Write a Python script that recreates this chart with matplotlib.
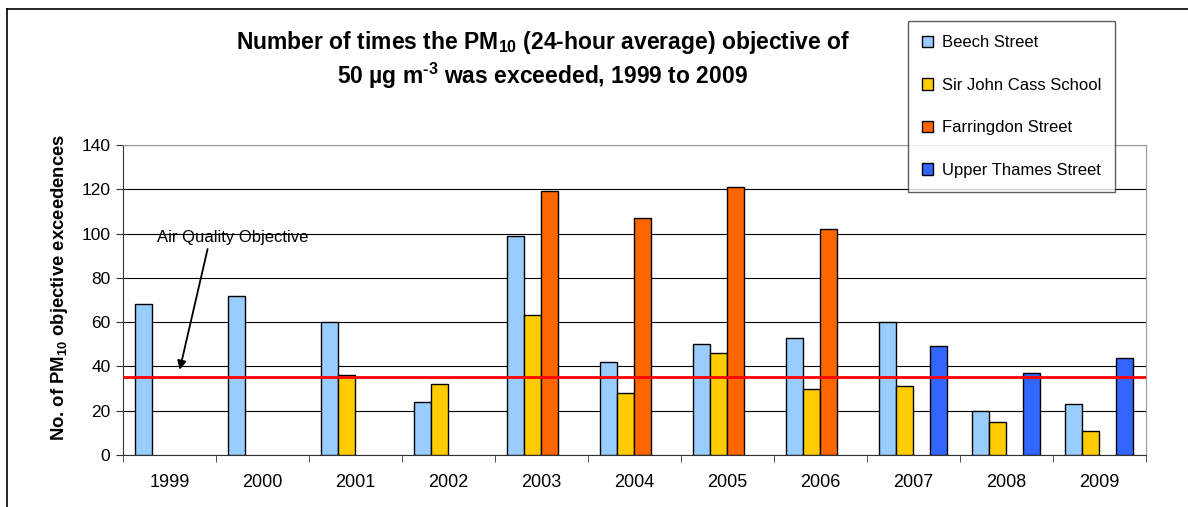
import numpy as np
import matplotlib.pyplot as plt
from matplotlib.lines import Line2D

plt.rcParams['font.family'] = ['Liberation Sans', 'DejaVu Sans']
plt.rcParams['mathtext.fontset'] = 'custom'
plt.rcParams['mathtext.rm'] = 'Liberation Sans:bold'
plt.rcParams['mathtext.bf'] = 'Liberation Sans:bold'
plt.rcParams['mathtext.default'] = 'rm'

years = ['1999', '2000', '2001', '2002', '2003', '2004', '2005', '2006', '2007', '2008', '2009']
beech = [68, 72, 60, 24, 99, 42, 50, 53, 60, 20, 23]
sir_john_cass = [0, 0, 36, 32, 63, 28, 46, 30, 31, 15, 11]
farringdon = [0, 0, 0, 0, 119, 107, 121, 102, 0, 0, 0]
upper_thames = [0, 0, 0, 0, 0, 0, 0, 0, 49, 37, 44]
objective = 35

series = [
    ('Beech Street', beech, '#99ccff'),
    ('Sir John Cass School', sir_john_cass, '#ffcc00'),
    ('Farringdon Street', farringdon, '#ff6600'),
    ('Upper Thames Street', upper_thames, '#3366ff'),
]

fig = plt.figure(figsize=(11.88, 5.07), dpi=100)
ax = fig.add_axes([0.1035, 0.1026, 0.8611, 0.6114])

x = np.arange(len(years))
w = 0.183
for i, (name, vals, col) in enumerate(series):
    vals = np.array(vals, dtype=float)
    mask = vals > 0
    ax.bar(x[mask] + (i - 1.5) * w, vals[mask], width=w, color=col,
           edgecolor='black', linewidth=1.0, label=name, zorder=3)

ax.axhline(objective, color='#ff0000', linewidth=2, zorder=4)

ax.set_xlim(-0.5, len(years) - 0.5)
ax.set_ylim(0, 140)
ax.set_yticks(range(0, 141, 20))
ax.set_xticks(x)
ax.set_xticklabels(years)
ax.set_xticks(np.arange(-0.5, len(years), 1), minor=True)
ax.tick_params(axis='x', which='major', length=0, labelsize=13, pad=14)
ax.tick_params(axis='x', which='minor', length=5, direction='out', color='#333333')
ax.tick_params(axis='y', length=5, direction='out', labelsize=12.5, color='#333333', pad=4)
ax.yaxis.grid(True, color='black', linewidth=0.8, zorder=0)
ax.set_axisbelow(True)
for side in ['top', 'right']:
    ax.spines[side].set_color('#999999')
ax.spines['left'].set_color('#333333')
ax.spines['bottom'].set_color('#333333')

ax.set_ylabel(r'No. of PM$_{10}$ objective exceedences', fontsize=13.3,
              fontweight='bold')
ax.yaxis.set_label_coords(-0.052, 0.54)

ax.text(-0.13, 98, 'Air Quality Objective', fontsize=12, ha='left', va='center')
ax.annotate('', xy=(0.11, 38.5), xytext=(0.41, 93),
            arrowprops=dict(arrowstyle='-|>', color='black', lw=1.3,
                            shrinkA=0, shrinkB=0, mutation_scale=13))

fig.text(0.457, 0.917, r'Number of times the PM$_{10}$ (24-hour average) objective of',
         ha='center', va='center', fontsize=16.5, fontweight='bold')
fig.text(0.457, 0.85, r'50 µg m$^{\text{-3}}$ was exceeded, 1999 to 2009',
         ha='center', va='center', fontsize=16.5, fontweight='bold')

leg = fig.legend(loc='upper left', bbox_to_anchor=(0.757, 0.975), fontsize=12,
                 frameon=True, fancybox=False, edgecolor='#333333',
                 handlelength=0.7, handleheight=0.7, labelspacing=1.65,
                 borderpad=0.85, handletextpad=0.5)
leg.get_frame().set_linewidth(1.0)

# outer chart border (left and top edges only visible)
fig.add_artist(Line2D([0.006, 0.006], [0, 0.982], transform=fig.transFigure,
                      color='black', linewidth=1.2))
fig.add_artist(Line2D([0.006, 1.0], [0.982, 0.982], transform=fig.transFigure,
                      color='black', linewidth=1.2))

fig.savefig('out.png', dpi=100)
